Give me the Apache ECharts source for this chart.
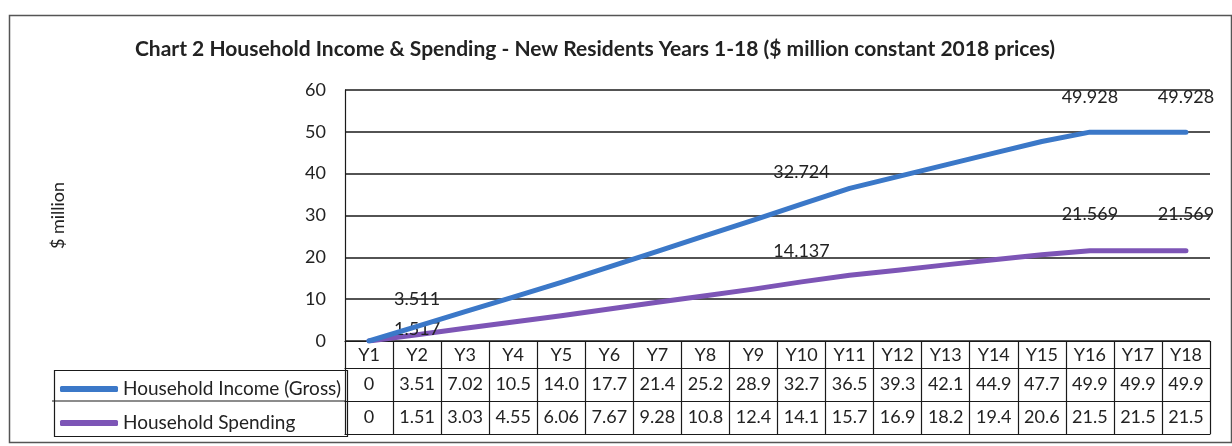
<!DOCTYPE html>
<html>
<head>
<meta charset="utf-8">
<script src="https://cdn.jsdelivr.net/npm/echarts@6/dist/echarts.min.js"></script>
<style>
  html, body { margin: 0; padding: 0; background: #ffffff; }
  #chart { width: 1232px; height: 446px; }
</style>
</head>
<body>
<div id="chart"></div>
<script>
// Years on the horizontal axis
const years = ['Y1','Y2','Y3','Y4','Y5','Y6','Y7','Y8','Y9','Y10','Y11','Y12','Y13','Y14','Y15','Y16','Y17','Y18'];

// Plotted values ($ million)
const incomeValues = [0, 3.511, 7.02, 10.5, 14.0, 17.7, 21.4, 25.2, 28.9, 32.724, 36.5, 39.3, 42.1, 44.9, 47.7, 49.928, 49.928, 49.928];
const spendingValues = [0, 1.517, 3.03, 4.55, 6.06, 7.67, 9.28, 10.8, 12.4, 14.137, 15.7, 16.9, 18.2, 19.4, 20.6, 21.569, 21.569, 21.569];

// Values printed in the data table under the plot
const incomeTable = ['0','3.51','7.02','10.5','14.0','17.7','21.4','25.2','28.9','32.7','36.5','39.3','42.1','44.9','47.7','49.9','49.9','49.9'];
const spendingTable = ['0','1.51','3.03','4.55','6.06','7.67','9.28','10.8','12.4','14.1','15.7','16.9','18.2','19.4','20.6','21.5','21.5','21.5'];

// Years whose points carry a value label
const labelledYears = ['Y2', 'Y10', 'Y16', 'Y18'];

// Y axis ticks
const yTicks = [0, 10, 20, 30, 40, 50, 60];

const seriesNames = ['Household Income (Gross)', 'Household Spending'];

const FONT = 'Lato, "Open Sans", sans-serif';
const INK = '#222222';
const GRID_LINE = '#1a1a1a';

const plot = { left: 345, right: 22, top: 90, bottom: 105 };
const headerH = 27, rowH = 33;

function labelled(values, distances) {
  return values.map((v, i) => {
    if (labelledYears.indexOf(years[i]) < 0) return v;
    const d = distances[years[i]] !== undefined ? distances[years[i]] : 24;
    return { value: v, label: { show: true, distance: d } };
  });
}

function tableAxis(data, offset, showLabels) {
  return {
    type: 'category',
    data: data,
    position: 'bottom',
    offset: offset,
    boundaryGap: true,
    axisLine: { show: true, lineStyle: { color: GRID_LINE, width: 1.2 } },
    axisTick: { show: showLabels, interval: 0, length: showLabels ? (offset === 0 ? headerH : rowH) : 0,
                lineStyle: { color: GRID_LINE, width: 1.2 } },
    axisLabel: { show: showLabels, interval: 0, fontFamily: FONT, fontSize: 18, color: INK,
                 margin: offset === 0 ? 5 : 7 },
    splitLine: { show: false }
  };
}

const chart = echarts.init(document.getElementById('chart'));

chart.setOption({
  backgroundColor: '#ffffff',
  animation: false,
  title: {
    text: 'Chart 2 Household Income & Spending - New Residents Years 1-18 ($ million constant 2018 prices)',
    left: 590,
    textAlign: 'center',
    top: 34,
    textStyle: { fontFamily: FONT, fontSize: 21, fontWeight: 'bold', color: INK }
  },
  legend: {
    orient: 'vertical',
    left: 55,
    top: 373,
    itemWidth: 58,
    itemHeight: 6,
    itemGap: 12,
    icon: 'roundRect',
    textStyle: { fontFamily: FONT, fontSize: 19, color: INK, lineHeight: 22 },
    data: seriesNames
  },
  grid: { left: plot.left, right: plot.right, top: plot.top, bottom: plot.bottom, containLabel: false },
  xAxis: [
    tableAxis(years, 0, true),
    tableAxis(incomeTable, headerH, true),
    tableAxis(spendingTable, headerH + rowH, true),
    tableAxis(years, headerH + 2 * rowH, false)
  ],
  yAxis: {
    type: 'value',
    min: 0,
    max: 60,
    interval: 10,
    name: '$ million',
    nameLocation: 'middle',
    nameGap: 278,
    nameTextStyle: { fontFamily: FONT, fontSize: 18, color: INK },
    axisLine: { show: true, lineStyle: { color: GRID_LINE, width: 1.2 } },
    axisTick: { show: false },
    axisLabel: { fontFamily: FONT, fontSize: 18, color: INK, margin: 19,
                 formatter: v => (yTicks.indexOf(v) >= 0 ? String(v) : '') },
    splitLine: { show: true, lineStyle: { color: GRID_LINE, width: 1.5 } }
  },
  series: [
    {
      name: seriesNames[0],
      type: 'line',
      data: labelled(incomeValues, { Y2: 18, Y10: 22, Y16: 25, Y18: 25 }),
      symbol: 'circle',
      symbolSize: 1,
      color: '#3b78c8',
      lineStyle: { width: 5, cap: 'round', join: 'round' },
      label: { show: false, position: 'top', fontFamily: FONT, fontSize: 18, color: INK,
               formatter: p => String(p.value) },
      z: 3
    },
    {
      name: seriesNames[1],
      type: 'line',
      data: labelled(spendingValues, { Y2: -4, Y10: 21, Y16: 27, Y18: 27 }),
      symbol: 'circle',
      symbolSize: 1,
      color: '#7d55b6',
      lineStyle: { width: 5, cap: 'round', join: 'round' },
      label: { show: false, position: 'top', fontFamily: FONT, fontSize: 18, color: INK,
               formatter: p => String(p.value) },
      z: 2
    }
  ],
  graphic: [
    // outer chart frame
    { type: 'rect', left: 7, top: 13, shape: { width: 1222, height: 427 },
      style: { fill: 'none', stroke: '#555', lineWidth: 1.5 }, silent: true },
    // legend cells of the data table
    { type: 'rect', left: 52, top: 368, shape: { width: 293, height: 66 },
      style: { fill: 'none', stroke: GRID_LINE, lineWidth: 1.2 }, silent: true },
    { type: 'line', shape: { x1: 52, y1: 401, x2: 345, y2: 401 },
      style: { stroke: GRID_LINE, lineWidth: 1.2 }, silent: true }
  ]
});
</script>
</body>
</html>
